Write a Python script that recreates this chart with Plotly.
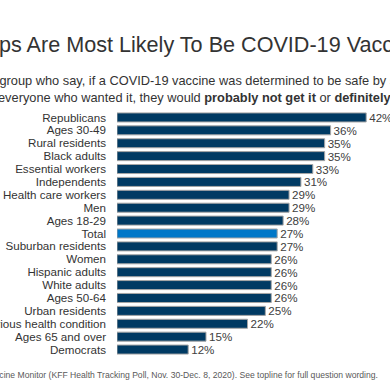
import plotly.graph_objects as go

groups = ["Republicans", "Ages 30-49", "Rural residents", "Black adults", "Essential workers",
          "Independents", "Health care workers", "Men", "Ages 18-29", "Total",
          "Suburban residents", "Women", "Hispanic adults", "White adults", "Ages 50-64",
          "Urban residents", "Serious health condition", "Ages 65 and over", "Democrats"]
values = [42, 36, 35, 35, 33, 31, 29, 29, 28, 27, 27, 26, 26, 26, 26, 25, 22, 15, 12]
value_labels = [f"{v}%" for v in values]

NAVY = "#003A63"
BLUE = "#0077C8"
colors = [BLUE if g == "Total" else NAVY for g in groups]

FONT = "Liberation Sans, Arial, sans-serif"
W, H = 390, 390
ML, MR, MT, MB = 117, 5.5, 110.5, 33.6
PW = W - ML - MR
PH = H - MT - MB


def px_to_paper_x(px):
    return (px - ML) / PW


def px_to_paper_y(py):
    return (H - MB - py) / PH


title = "Which Groups Are Most Likely To Be COVID-19 Vaccine Hesitant?"
sub1 = "Percent in each group who say, if a COVID-19 vaccine was determined to be safe by scientists and available for free to"
sub2 = "everyone who wanted it, they would <b>probably not get it</b> or <b>definitely not get it</b>"
source = "SOURCE: KFF COVID-19 Vaccine Monitor (KFF Health Tracking Poll, Nov. 30-Dec. 8, 2020). See topline for full question wording."

fig = go.Figure(go.Bar(
    x=values, y=groups, orientation="h",
    marker=dict(color=colors, line=dict(color="#A6A6A6", width=1)),
    text=value_labels, textposition="outside", cliponaxis=False, constraintext="none",
    textfont=dict(family=FONT, size=11.6, color="#404040"),
    hoverinfo="skip",
))

annotations = [
    dict(text=title, x=px_to_paper_x(-117), y=px_to_paper_y(44), xanchor="left", yanchor="middle",
         font=dict(family=FONT, size=21.6, color="#333333")),
    dict(text=sub1, x=px_to_paper_x(-95.5), y=px_to_paper_y(80), xanchor="left", yanchor="middle",
         font=dict(family=FONT, size=12.8, color="#333333")),
    dict(text=sub2, x=px_to_paper_x(-4), y=px_to_paper_y(96.5), xanchor="left", yanchor="middle",
         font=dict(family=FONT, size=12.8, color="#333333")),
    dict(text=source, x=px_to_paper_x(380), y=px_to_paper_y(375.5), xanchor="right", yanchor="middle",
         font=dict(family=FONT, size=8.6, color="#595959")),
]
for a in annotations:
    a.update(xref="paper", yref="paper", showarrow=False, align="left")

fig.update_layout(
    width=W, height=H,
    margin=dict(l=ML, r=MR, t=MT, b=MB, pad=0, autoexpand=False),
    paper_bgcolor="white", plot_bgcolor="white",
    showlegend=False,
    bargap=0.3,
    annotations=annotations,
    xaxis=dict(range=[0, 45], visible=False, fixedrange=True, automargin=False),
    yaxis=dict(autorange="reversed", showgrid=False, zeroline=False, showline=False,
               ticks="", ticklabelstandoff=10, fixedrange=True, automargin=False,
               tickmode="linear", dtick=1,
               tickfont=dict(family=FONT, size=11.6, color="#333333")),
)

fig.write_html(
    "out.html",
    config={"displayModeBar": False},
    post_script="document.body.style.margin='0';document.body.style.overflow='hidden';",
)
